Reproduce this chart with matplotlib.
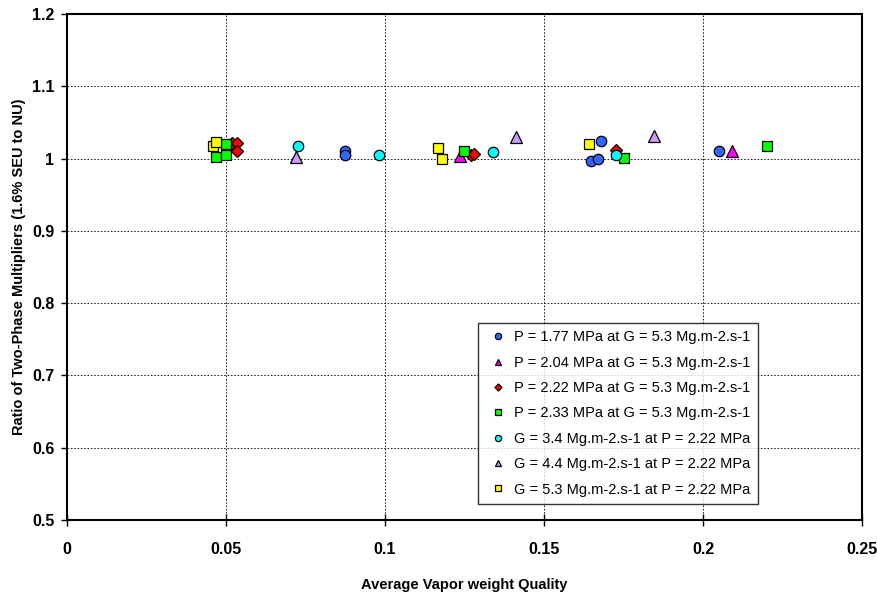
import matplotlib
matplotlib.use("Agg")
import matplotlib.pyplot as plt

plt.rcParams['font.family'] = ['Liberation Sans', 'DejaVu Sans']

# P = 1.77 MPa at G = 5.3
x_p177 = [0.0874, 0.0874, 0.1648, 0.167, 0.168, 0.205]
y_p177 = [1.010, 1.005, 0.996, 1.000, 1.024, 1.010]

# P = 2.04 MPa at G = 5.3
x_p204 = [0.1236, 0.209]
y_p204 = [1.003, 1.010]

# P = 2.22 MPa at G = 5.3
x_p222 = [0.052, 0.0535, 0.0535, 0.127, 0.128, 0.1726]
y_p222 = [1.021, 1.022, 1.011, 1.005, 1.007, 1.012]

# P = 2.33 MPa at G = 5.3
x_p233 = [0.047, 0.050, 0.050, 0.1248, 0.175, 0.220]
y_p233 = [1.002, 1.020, 1.005, 1.010, 1.001, 1.017]

# G = 3.4 at P = 2.22
x_g34 = [0.0726, 0.098, 0.134, 0.1726]
y_g34 = [1.017, 1.005, 1.009, 1.005]

# G = 4.4 at P = 2.22
x_g44 = [0.072, 0.1412, 0.1846]
y_g44 = [1.002, 1.030, 1.031]

# G = 5.3 at P = 2.22
x_g53 = [0.0459, 0.0469, 0.1167, 0.118, 0.1642]
y_g53 = [1.018, 1.023, 1.014, 1.000, 1.020]

labels = [
    "P = 1.77 MPa at G = 5.3 Mg.m-2.s-1",
    "P = 2.04 MPa at G = 5.3 Mg.m-2.s-1",
    "P = 2.22 MPa at G = 5.3 Mg.m-2.s-1",
    "P = 2.33 MPa at G = 5.3 Mg.m-2.s-1",
    "G = 3.4 Mg.m-2.s-1 at P = 2.22 MPa",
    "G = 4.4 Mg.m-2.s-1 at P = 2.22 MPa",
    "G = 5.3 Mg.m-2.s-1 at P = 2.22 MPa",
]

x_ticks = [0, 0.05, 0.1, 0.15, 0.2, 0.25]
x_tick_labels = ["0", "0.05", "0.1", "0.15", "0.2", "0.25"]
y_ticks = [0.5, 0.6, 0.7, 0.8, 0.9, 1.0, 1.1, 1.2]
y_tick_labels = ["0.5", "0.6", "0.7", "0.8", "0.9", "1", "1.1", "1.2"]

fig = plt.figure(figsize=(8.78, 5.97), dpi=100)
ax = fig.add_axes([0.0763, 0.1290, 0.9055, 0.8475])

series = [
    (x_p177, y_p177, "o", "#3366FF", 7.5),
    (x_p204, y_p204, "^", "#FF00FF", 8),
    (x_p222, y_p222, "D", "#FF0000", 6),
    (x_p233, y_p233, "s", "#00FF00", 6.5),
    (x_g34, y_g34, "o", "#00FFFF", 7.5),
    (x_g44, y_g44, "^", "#CC99FF", 8),
    (x_g53, y_g53, "s", "#FFFF00", 6.5),
]

for (xs, ys, m, c, s), lab in zip(series, labels):
    ax.plot(xs, ys, linestyle="none", marker=m, markersize=s,
            markerfacecolor=c, markeredgecolor="black", markeredgewidth=0.9,
            label=lab)

ax.set_xlim(0, 0.25)
ax.set_ylim(0.5, 1.2)
ax.set_xticks(x_ticks)
ax.set_xticklabels(x_tick_labels, fontsize=11.5, fontweight="bold")
ax.set_yticks(y_ticks)
ax.set_yticklabels(y_tick_labels, fontsize=11.5, fontweight="bold")
ax.tick_params(axis="x", direction="inout", length=8, width=1, pad=12)
ax.tick_params(axis="y", direction="out", length=4, width=1, pad=5)

ax.grid(True, color="black", linestyle=(0, (2, 2)), linewidth=0.6)
ax.set_axisbelow(True)
for sp in ax.spines.values():
    sp.set_linewidth(1.5)

ax.set_xlabel("Average Vapor weight Quality", fontsize=10.5, fontweight="bold", labelpad=15)
ax.set_ylabel("Ratio of Two-Phase Multipliers (1.6% SEU to NU)", fontsize=10.5,
              fontweight="bold", labelpad=4)

leg = ax.legend(loc="lower right", bbox_to_anchor=(0.869, 0.032), fontsize=10.5,
                frameon=True, fancybox=False, edgecolor="black",
                markerscale=0.6, handlelength=1.8, handletextpad=0.2,
                labelspacing=0.78, borderpad=0.5, borderaxespad=0)
leg.get_frame().set_linewidth(1.0)

fig.savefig("out.png", dpi=100)
